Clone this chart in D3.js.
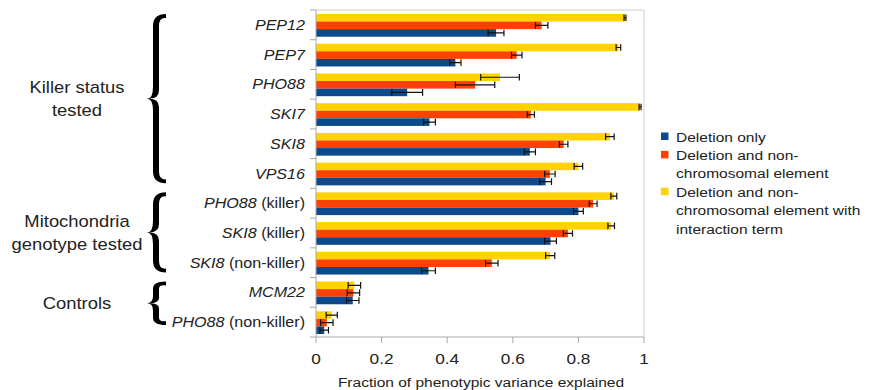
<html>
  <meta charset="utf-8">
  <head>
  <style>
    body { margin: 0; background: #fff; }
    svg text { font-family: "Liberation Sans", Arial, sans-serif; fill: #222; }
  </style>
  </head>
  <body>
    <div id="chart"></div>
    <script src="https://cdn.jsdelivr.net/npm/d3@7"></script>
    <script>
    'use strict';

    // gene name (italic) + plain suffix
    var genes    = ['PEP12', 'PEP7', 'PHO88', 'SKI7', 'SKI8', 'VPS16', 'PHO88', 'SKI8', 'SKI8', 'MCM22', 'PHO88'];
    var suffixes = ['', '', '', '', '', '', ' (killer)', ' (killer)', ' (non-killer)', '', ' (non-killer)'];

    var deletionOnly       = [0.549, 0.425, 0.278, 0.346, 0.652, 0.700, 0.800, 0.715, 0.343, 0.112, 0.025];
    var deletionOnlyErr    = [0.024, 0.017, 0.047, 0.018, 0.017, 0.018, 0.015, 0.018, 0.021, 0.019, 0.013];
    var withElement        = [0.688, 0.612, 0.485, 0.655, 0.755, 0.713, 0.845, 0.768, 0.536, 0.114, 0.033];
    var withElementErr     = [0.019, 0.016, 0.060, 0.011, 0.013, 0.016, 0.012, 0.014, 0.019, 0.019, 0.019];
    var withInteraction    = [0.942, 0.922, 0.561, 0.988, 0.896, 0.800, 0.908, 0.900, 0.714, 0.117, 0.048];
    var withInteractionErr = [0.003, 0.007, 0.059, 0.003, 0.013, 0.013, 0.009, 0.010, 0.014, 0.019, 0.017];

    var seriesKeys   = ['interaction', 'element', 'deletion'];   // top to bottom inside a band
    var seriesColors = {deletion: '#0b4a8c', element: '#ff4000', interaction: '#ffd200'};

    var legendLines = [
      {key: 'deletion', lines: ['Deletion only']},
      {key: 'element', lines: ['Deletion and non-', 'chromosomal element']},
      {key: 'interaction', lines: ['Deletion and non-', 'chromosomal element with', 'interaction term']}
    ];

    var groups = [
      {from: 0, to: 5, lines: ['Killer status', 'tested']},
      {from: 6, to: 8, lines: ['Mitochondria', 'genotype tested']},
      {from: 9, to: 10, lines: ['Controls']}
    ];

    var xTicks = [0, 0.2, 0.4, 0.6, 0.8, 1];

    var W = 873, H = 390, SX = 1.15;
    var pLeft = 316, pRight = 644, pTop = 10, pBottom = 337;

    var svg = d3.select('#chart').append('svg').attr('width', W).attr('height', H);

    var x = d3.scaleLinear().domain([0, 1]).range([pLeft, pRight]);
    var y = d3.scaleBand().domain(d3.range(genes.length)).range([pTop, pBottom]).padding(0);
    var ySub = d3.scaleBand().domain(seriesKeys).range([4, y.bandwidth() - 3]).padding(0);

    // text that is a little wider than the font, like the source picture
    function wideText(g, tx, ty, size, anchor) {
      return g.append('text')
        .attr('transform', 'translate(' + tx + ',' + ty + ') scale(' + SX + ',1)')
        .attr('font-size', size)
        .attr('text-anchor', anchor || 'start');
    }

    var rows = genes.map(function(g, i) {
      return {
        i: i,
        vals: {
          deletion: [deletionOnly[i], deletionOnlyErr[i]],
          element: [withElement[i], withElementErr[i]],
          interaction: [withInteraction[i], withInteractionErr[i]]
        }
      };
    });

    // frame
    svg.append('path')
      .attr('d', 'M' + pLeft + ',' + pTop + 'H' + pRight + 'V' + pBottom)
      .attr('fill', 'none').attr('stroke', '#cfcfcf');

    // bars
    var band = svg.append('g').selectAll('g').data(rows).join('g')
      .attr('transform', function(d) { return 'translate(0,' + y(d.i) + ')'; });

    band.selectAll('rect').data(function(d) {
        return seriesKeys.map(function(k) { return {k: k, v: d.vals[k][0], e: d.vals[k][1]}; });
      }).join('rect')
      .attr('x', x(0))
      .attr('y', function(d) { return ySub(d.k); })
      .attr('width', function(d) { return x(d.v) - x(0); })
      .attr('height', ySub.bandwidth())
      .attr('fill', function(d) { return seriesColors[d.k]; });

    // error bars
    var eb = band.selectAll('g.err').data(function(d) {
        return seriesKeys.map(function(k) { return {k: k, v: d.vals[k][0], e: d.vals[k][1]}; });
      }).join('g').attr('class', 'err')
      .attr('stroke', '#111').attr('stroke-width', 1.2).attr('fill', 'none');
    eb.append('path').attr('d', function(d) {
      var cy = ySub(d.k) + ySub.bandwidth() / 2, h = 3.3;
      var a = x(d.v - d.e), b = x(d.v + d.e);
      return 'M' + a + ',' + cy + 'H' + b +
             'M' + a + ',' + (cy - h) + 'V' + (cy + h) +
             'M' + b + ',' + (cy - h) + 'V' + (cy + h);
    });

    // y axis
    var yAx = svg.append('g').attr('stroke', '#a9a9a9').attr('fill', 'none');
    yAx.append('path').attr('d', 'M' + pLeft + ',' + pTop + 'V' + pBottom);
    yAx.selectAll('path.tick').data(d3.range(genes.length + 1)).join('path').attr('class', 'tick')
      .attr('d', function(i) {
        var yy = i < genes.length ? y(i) : pBottom;
        return 'M' + (pLeft - 6) + ',' + yy + 'H' + pLeft;
      });

    // category labels
    genes.forEach(function(g, i) {
      var t = wideText(svg, 305, y(i) + y.bandwidth() / 2 + 5, 14, 'end');
      t.append('tspan').attr('font-style', 'italic').text(g);
      if (suffixes[i]) t.append('tspan').text(suffixes[i]);
    });

    // x axis
    var xAx = svg.append('g').attr('stroke', '#a9a9a9').attr('fill', 'none');
    xAx.append('path').attr('d', 'M' + pLeft + ',' + pBottom + 'H' + pRight);
    xAx.selectAll('path.tick').data(xTicks).join('path').attr('class', 'tick')
      .attr('d', function(v) { return 'M' + x(v) + ',' + pBottom + 'V' + (pBottom + 6); });
    xTicks.forEach(function(v) {
      wideText(svg, x(v), 364, 15, 'middle').text(d3.format('~g')(v));
    });
    wideText(svg, 481, 387, 13.5, 'middle').text('Fraction of phenotypic variance explained');

    // braces
    function bracePath(x0, x1, y0, y1, xs, t) {
      var ym = (y0 + y1) / 2, r = Math.min(12, (y1 - y0) / 6);
      var ol = xs - t / 2, il = xs + t / 2;
      return 'M' + x1 + ',' + y0 +
        'Q' + ol + ',' + y0 + ' ' + ol + ',' + (y0 + r) +
        'L' + ol + ',' + (ym - r) +
        'Q' + ol + ',' + ym + ' ' + x0 + ',' + ym +
        'Q' + ol + ',' + ym + ' ' + ol + ',' + (ym + r) +
        'L' + ol + ',' + (y1 - r) +
        'Q' + ol + ',' + y1 + ' ' + x1 + ',' + y1 +
        'L' + x1 + ',' + (y1 - 4) +
        'Q' + il + ',' + (y1 - 3) + ' ' + il + ',' + (y1 - r) +
        'L' + il + ',' + (ym + r * 0.7) +
        'Q' + il + ',' + ym + ' ' + (x0 + 2) + ',' + ym +
        'Q' + il + ',' + ym + ' ' + il + ',' + (ym - r * 0.7) +
        'L' + il + ',' + (y0 + r) +
        'Q' + il + ',' + (y0 + 3) + ' ' + x1 + ',' + (y0 + 4) + 'Z';
    }

    groups.forEach(function(gr) {
      var y0 = y(gr.from) + 4, y1 = y(gr.to) + y.bandwidth() - 12;
      if (gr.from === 0) y1 = y(gr.to) + y.bandwidth() - 5;
      if (gr.from === 6) y1 = y(gr.to) + y.bandwidth() - 5;
      svg.append('path').attr('d', bracePath(147, 166, y0, y1, 156, 6)).attr('fill', '#000');
      var cy = (y0 + y1) / 2, n = gr.lines.length;
      gr.lines.forEach(function(l, j) {
        wideText(svg, 77, cy + 6 + (j - (n - 1) / 2) * 23, 16, 'middle').text(l);
      });
    });

    // legend
    var ly = 141.5;
    legendLines.forEach(function(item) {
      svg.append('rect').attr('x', 661).attr('y', ly - 9).attr('width', 7.5).attr('height', 7.5)
        .attr('fill', seriesColors[item.key]);
      item.lines.forEach(function(l) {
        wideText(svg, 676, ly, 13.5).text(l);
        ly += 18.4;
      });
    });
    </script>
  </body>
</html>
